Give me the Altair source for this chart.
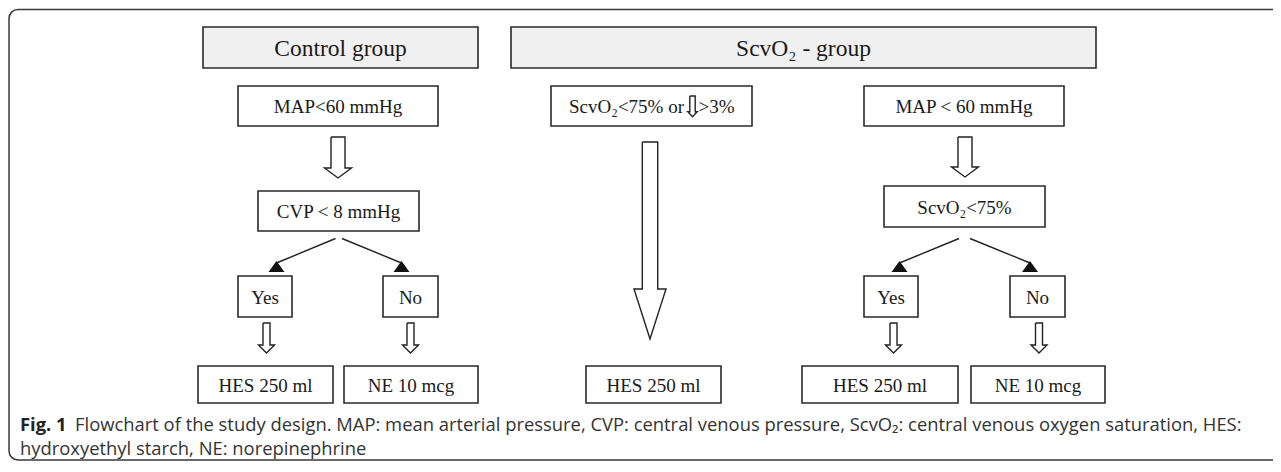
import altair as alt
import pandas as pd

# ---------------- text content ----------------
header_labels = ["Control group", "ScvO\u2082 - group"]
box_labels = ["MAP<60 mmHg", "CVP < 8 mmHg", "Yes", "No", "HES 250 ml", "NE 10 mcg",
              "HES 250 ml",
              "MAP < 60 mmHg", "ScvO\u2082<75%", "Yes", "No", "HES 250 ml", "NE 10 mcg"]
mid_box_parts = ["ScvO\u2082<75% or", ">3%"]
caption_bold = "Fig. 1"
caption_line1 = ("Flowchart of the study design. MAP: mean arterial pressure, CVP: central venous "
                 "pressure, ScvO\u2082: central venous oxygen saturation, HES:")
caption_line2 = "hydroxyethyl starch, NE: norepinephrine"

# ---------------- layout (page pixel coordinates) ----------------
header_geo = [(203, 478, 27, 68), (511, 1096, 27, 68)]
box_geo = [(238, 438, 86, 126), (258, 419, 191, 231), (238, 292, 276, 317), (383, 438, 276, 317),
           (198, 333, 366, 403), (344, 478, 366, 403),
           (586, 721, 366, 403),
           (864, 1064, 86, 126), (884, 1045, 186, 227), (864, 918, 276, 317), (1010, 1065, 276, 317),
           (802, 958, 366, 403), (971, 1105, 366, 403)]
mid_box_geo = (551, 752, 86, 126)
# hollow arrows: centre x, stem half width, head half width, top, shoulder, tip
arrow_geo = [(338, 7, 13.5, 137, 168, 178), (965, 7, 13.5, 137, 167, 177),
             (650, 7.7, 16, 142, 289, 339),
             (266.5, 3.5, 8, 323, 345, 353), (410.5, 3.5, 8, 323, 345, 353),
             (893.5, 3.5, 8, 323, 345, 353), (1039, 3.5, 8, 323, 345, 353),
             (692.5, 2.7, 4.7, 96, 111.7, 116.7)]
# branch lines: start, end (apex of filled triangle)
branch_geo = [((335.5, 238.5), (276.5, 261)), ((342, 238.5), (401.5, 261)),
              ((959, 238.5), (899.5, 261)), ((970, 238.5), (1030, 261))]
tri_base_y = 272

# ---------------- build tables ----------------
rects = []
for (x0, x1, y0, y1) in header_geo:
    rects.append(dict(x0=x0, x1=x1, y0=y0, y1=y1, fill="#f0f0f0"))
for (x0, x1, y0, y1) in box_geo + [mid_box_geo]:
    rects.append(dict(x0=x0, x1=x1, y0=y0, y1=y1, fill="#ffffff"))
rects_df = pd.DataFrame(rects)

lines = []
for i, (cx, sh, hh, top, sho, tip) in enumerate(arrow_geo):
    pts = [(cx - sh, top), (cx + sh, top), (cx + sh, sho), (cx + hh, sho), (cx, tip),
           (cx - hh, sho), (cx - sh, sho), (cx - sh, top)]
    for k, (px, py) in enumerate(pts):
        lines.append(dict(id=f"a{i}", o=k, x=px, y=py))
for i, ((sx, sy), (ex, ey)) in enumerate(branch_geo):
    lines.append(dict(id=f"b{i}", o=0, x=sx, y=sy))
    lines.append(dict(id=f"b{i}", o=1, x=ex, y=ey + 2))
lines_df = pd.DataFrame(lines)

tris_df = pd.DataFrame([dict(x=ax, y=(ay + tri_base_y) / 2) for (_, (ax, ay)) in branch_geo])

box_text_df = pd.DataFrame([dict(x=(g[0] + g[1]) / 2, y=(g[2] + g[3]) / 2 + 1, t=t)
                            for g, t in zip(box_geo, box_labels)])
head_text_df = pd.DataFrame([dict(x=(g[0] + g[1]) / 2, y=(g[2] + g[3]) / 2 + 1, t=t)
                             for g, t in zip(header_geo, header_labels)])
mid_left_df = pd.DataFrame([dict(x=684, y=107, t=mid_box_parts[0])])
mid_right_df = pd.DataFrame([dict(x=698.5, y=107, t=mid_box_parts[1])])
cap_bold_df = pd.DataFrame([dict(x=20, y=424.5, t=caption_bold)])
cap1_df = pd.DataFrame([dict(x=75, y=424.5, t=caption_line1)])
cap2_df = pd.DataFrame([dict(x=20, y=448.5, t=caption_line2)])
frame_df = pd.DataFrame([dict(x0=9, x1=1300, y0=9.5, y1=460)])

W, H = 1265, 456
xs = alt.Scale(domain=[8, 8 + W], nice=False, zero=False)
ys = alt.Scale(domain=[8, 8 + H], nice=False, zero=False, reverse=True)

def X(f="x"):
    return alt.X(f"{f}:Q", scale=xs, axis=None)

def Y(f="y"):
    return alt.Y(f"{f}:Q", scale=ys, axis=None)

frame = alt.Chart(frame_df).mark_rect(fill=None, stroke="#3a3a3a", strokeWidth=1.5,
                                      cornerRadius=9).encode(
    x=X("x0"), x2="x1", y=Y("y0"), y2="y1")

boxes = alt.Chart(rects_df).mark_rect(stroke="#2a2a2a", strokeWidth=1.6).encode(
    x=X("x0"), x2="x1", y=Y("y0"), y2="y1", fill=alt.Fill("fill:N", scale=None))

outlines = alt.Chart(lines_df).mark_line(color="#222222", strokeWidth=1.4,
                                         strokeJoin="miter").encode(
    x=X(), y=Y(), detail="id:N", order="o:Q")

# filled arrow heads: triangle 16 px wide, 11 px tall (path units * sqrt(size)/2)
triangles = alt.Chart(tris_df).mark_point(
    shape="M0,-0.6875L1,0.6875L-1,0.6875Z", size=256, filled=True, fill="#111111",
    opacity=1, strokeWidth=0).encode(x=X(), y=Y())

serif = "Liberation Serif"
box_text = alt.Chart(box_text_df).mark_text(font=serif, fontSize=19, color="#1a1a1a",
                                            baseline="middle", align="center").encode(
    x=X(), y=Y(), text="t:N")
head_text = alt.Chart(head_text_df).mark_text(font=serif, fontSize=23.5, color="#1a1a1a",
                                              baseline="middle", align="center").encode(
    x=X(), y=Y(), text="t:N")
mid_left = alt.Chart(mid_left_df).mark_text(font=serif, fontSize=19, color="#1a1a1a",
                                            baseline="middle", align="right").encode(
    x=X(), y=Y(), text="t:N")
mid_right = alt.Chart(mid_right_df).mark_text(font=serif, fontSize=19, color="#1a1a1a",
                                              baseline="middle", align="left").encode(
    x=X(), y=Y(), text="t:N")

sans = "Open Sans"
cap_size = 18.4
cap_bold = alt.Chart(cap_bold_df).mark_text(font=sans, fontSize=cap_size, fontWeight="bold",
                                            color="#222222", baseline="middle",
                                            align="left").encode(x=X(), y=Y(), text="t:N")
cap1 = alt.Chart(cap1_df).mark_text(font=sans, fontSize=cap_size, color="#333333",
                                    baseline="middle", align="left").encode(
    x=X(), y=Y(), text="t:N")
cap2 = alt.Chart(cap2_df).mark_text(font=sans, fontSize=cap_size, color="#333333",
                                    baseline="middle", align="left").encode(
    x=X(), y=Y(), text="t:N")

chart = alt.layer(frame, boxes, outlines, triangles, box_text, head_text, mid_left, mid_right,
                  cap_bold, cap1, cap2).properties(
    width=W, height=H, autosize=alt.AutoSizeParams(type="none"), padding=0,
    background="white"
).configure_view(stroke=None)

chart.save("out.html", embed_options={"renderer": "svg", "actions": False})
